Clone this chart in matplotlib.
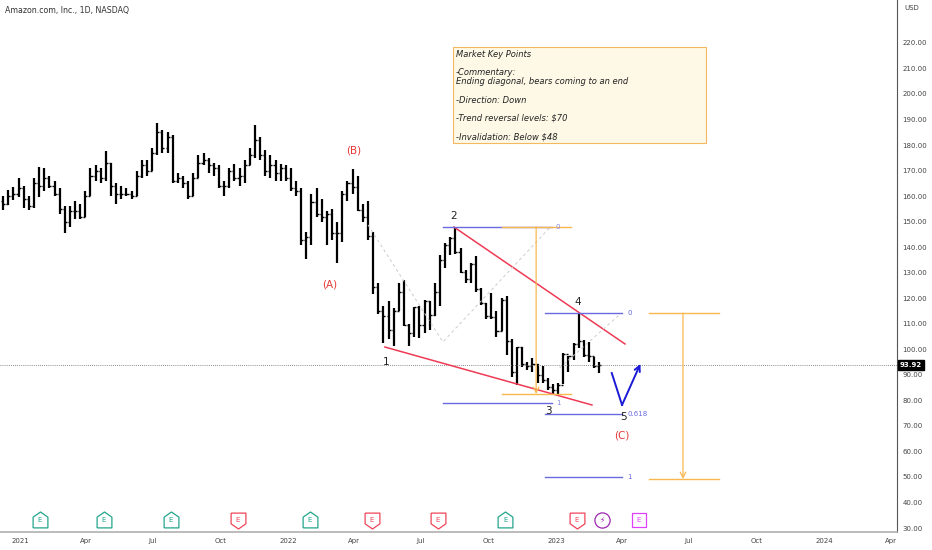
import matplotlib
matplotlib.use("Agg")
import matplotlib.pyplot as plt
import matplotlib.dates as mdates
import matplotlib.transforms as mtransforms
from matplotlib.patches import Rectangle
import numpy as np
import pandas as pd

# weekly bars (Mondays), amazon 1D, NASDAQ
week_start = pd.date_range("2020-12-07", periods=117, freq="7D")
highs = [160, 162.5, 163.5, 167, 164, 160, 167, 171.5, 171, 168, 166, 163, 156, 156, 158, 157,
         162, 171, 172, 171, 177.5, 173, 165, 164, 163, 162, 170, 174, 174, 179, 188.6, 186,
         185, 184, 169, 168, 166, 169, 176, 177, 175, 173, 172, 166, 171, 172.5, 171, 174,
         179, 188, 183, 178, 176, 174, 172.5, 172, 171, 166, 163, 146, 161, 163, 159, 154,
         155, 150, 162, 166, 170.8, 168, 157, 158, 146, 126, 117, 119, 116, 126, 127, 110,
         116.7, 117, 119.5, 119, 126, 137, 141.5, 144, 147.9, 139.5, 131, 134, 136.5, 124, 118, 122,
         115, 120, 121, 104, 101, 100.8, 95, 96.5, 94.1, 93.5, 88.8, 86.6, 86.9, 98.5, 97.5, 102.5,
         114.2, 103.8, 102.8, 97, 95]
lows = [154.7, 156.5, 158.5, 159.5, 155.5, 154.5, 155.5, 159.5, 162, 163, 160, 153, 145.6, 148, 151, 151,
        152, 160, 166, 165, 166, 160, 157, 159, 160, 159, 160, 167, 168, 170, 176, 177,
        177, 165, 165, 163, 159, 160, 167, 172, 169, 168, 163, 160, 163, 166, 164, 165,
        172, 175, 174, 168, 167, 166, 166, 166, 162, 160, 141, 135.5, 141, 152, 150, 141,
        143, 134, 142, 158, 161, 154, 150, 143, 121.6, 114, 102.4, 104, 101.3, 115, 109, 101.4,
        105, 104.5, 106.5, 107.5, 113, 117, 132, 137, 137.5, 130, 126, 126, 122.3, 117.5, 112, 112,
        105, 107, 97.7, 89, 86, 93, 91.8, 91, 87, 87, 84, 82.5, 82.0, 86.5, 91, 96,
        100.5, 97, 95, 92.5, 90.6]
closes = [157, 160, 161, 163, 159, 156, 165, 164, 167, 164, 161, 155, 150, 154, 154, 152,
          160, 168, 170, 167, 173, 164, 161, 161, 161, 160, 168, 172, 170, 177, 185, 179,
          183, 166, 167, 165, 160, 167, 173, 174, 172, 171, 164, 164, 170, 167, 168, 172,
          176, 182, 176, 170, 172, 169, 171, 167, 163, 162, 143, 144, 157.6, 153, 152, 153,
          145.6, 145.5, 161, 165, 163.6, 154.5, 151.7, 144.4, 124.3, 115, 113, 107.6, 115, 122.3, 109.6, 106.2,
          116.5, 109.6, 119, 113.6, 122.4, 134.9, 140.8, 143.6, 138.2, 130.4, 127.5, 133.3, 123.5, 118, 113, 112.6,
          107, 119.3, 103.4, 91, 100.8, 94.1, 93.4, 94.1, 89.9, 87.9, 85.3, 84.0, 86.1, 98.1, 97.3, 102.2,
          103.4, 97.6, 97.2, 93.5, 93.92]
first_open = 158
last_price = 93.92

# earnings / events along the bottom
earn_green = ["2021-01-28", "2021-04-25", "2021-07-25", "2022-01-31", "2022-10-24"]
earn_red = ["2021-10-25", "2022-04-25", "2022-07-24", "2023-01-29"]
event_bolt = "2023-03-05"
earn_next = "2023-04-24"

# drawings
wave_labels = [("1", "2022-05-15", 95.0), ("2", "2022-08-15", 152.2), ("3", "2022-12-22", 75.9),
               ("4", "2023-01-31", 118.6), ("5", "2023-04-03", 73.5)]
abc_labels = [("(A)", "2022-02-27", 125.2), ("(B)", "2022-04-01", 177.7), ("(C)", "2023-04-01", 66.1)]
upper_trend = [("2022-08-15", 147.9), ("2023-04-05", 102.1)]
lower_trend = [("2022-05-13", 100.9), ("2023-02-19", 78.2)]
fib1_x = ("2022-07-31", "2022-12-26")
fib1_levels = [("0", 147.9), ("1", 79.0)]
fib1_label_x = "2023-01-01"
fib2_x = ("2022-12-17", "2023-04-01")
fib2_levels = [("0", 114.2), ("0.618", 74.7), ("1", 50.0)]
fib2_label_x = "2023-04-08"
range1_x = ("2022-10-20", "2023-01-22", "2022-12-05")
range1_y = (147.9, 82.5)
range2_x = ("2023-05-08", "2023-08-11", "2023-06-23")
range2_y = (114.2, 49.2)
dash1 = [("2022-04-20", 148.7), ("2022-07-31", 102.9), ("2022-12-23", 147.5)]
dash2 = [("2023-01-06", 92.7), ("2023-03-31", 114.2)]
v_path = [("2023-03-18", 90.7), ("2023-04-01", 78.2), ("2023-04-26", 94.3)]

note = ("Market Key Points\n\n-Commentary:\nEnding diagonal, bears coming to an end\n\n"
        "-Direction: Down\n\n-Trend reversal levels: $70\n\n-Invalidation: Below $48")

d = lambda s: mdates.date2num(pd.Timestamp(s))

fig = plt.figure(figsize=(9.32, 5.5), dpi=100)
ax = fig.add_axes([0, 18 / 550, 897 / 932, 532 / 550])

x0 = d("2021-01-01")
ax.set_xlim(x0 - 27.24, x0 + 1194.5)
ax.set_ylim(28.46, 236.8)

# ohlc bars
xs = mdates.date2num(week_start) + 2
opens = [first_open] + closes[:-1]
ax.vlines(xs, lows, highs, color="black", lw=1.6)
ax.hlines(opens, xs - 2.8, xs, color="black", lw=1.0)
ax.hlines(closes, xs, xs + 2.8, color="black", lw=1.0)

# last price line
ax.axhline(last_price, color="#666666", lw=0.6, ls=(0, (1, 1.5)))

# trend lines
for seg in (upper_trend, lower_trend):
    ax.plot([d(p[0]) for p in seg], [p[1] for p in seg], color="#ef3a55", lw=1.1)

# dashed helper lines
for seg in (dash1, dash2):
    ax.plot([d(p[0]) for p in seg], [p[1] for p in seg], color="#cccccc", lw=0.7, ls=(0, (3, 3)))

fib_col = "#6a6ae0"
for name, lvl in fib1_levels:
    ax.plot([d(fib1_x[0]), d(fib1_x[1])], [lvl, lvl], color=fib_col, lw=1.0)
for name, lvl in fib2_levels:
    ax.plot([d(fib2_x[0]), d(fib2_x[1])], [lvl, lvl], color=fib_col, lw=1.0)

# orange price ranges
orange = "#f9b84f"
for rx, ry in ((range1_x, range1_y), (range2_x, range2_y)):
    for lvl in ry:
        ax.plot([d(rx[0]), d(rx[1])], [lvl, lvl], color=orange, lw=1.0)
    ax.annotate("", xy=(d(rx[2]), ry[1]), xytext=(d(rx[2]), ry[0]),
                arrowprops=dict(arrowstyle="->", color=orange, lw=0.9, shrinkA=0, shrinkB=0))

for name, lvl in fib1_levels:
    ax.text(d(fib1_label_x), lvl, name, color="#8888dd", fontsize=5, va="center", ha="left")
for name, lvl in fib2_levels:
    ax.text(d(fib2_label_x), lvl, name, color="#6a6ae0", fontsize=5, va="center", ha="left")

# blue V projection
vx = [d(p[0]) for p in v_path]
vy = [p[1] for p in v_path]
ax.plot(vx[:2], vy[:2], color="#1a1ad6", lw=1.4)
ax.annotate("", xy=(vx[2], vy[2]), xytext=(vx[1], vy[1]),
            arrowprops=dict(arrowstyle="->", color="#1a1ad6", lw=1.4, shrinkA=0, shrinkB=0,
                            mutation_scale=10))

for t, dt, p in wave_labels:
    ax.text(d(dt), p, t, fontsize=7.5, color="#222222", ha="center", va="center")
for t, dt, p in abc_labels:
    ax.text(d(dt), p, t, fontsize=7.5, color="#e53935", ha="center", va="center")

# note box
ax.add_patch(Rectangle((453 / 897, 1 - 143 / 532), (706 - 453) / 897, 96 / 532,
                       transform=ax.transAxes, facecolor="#fef9e6", edgecolor="#f4b860", lw=0.8))
ax.text(456 / 897, 1 - 50 / 532, note, transform=ax.transAxes, fontsize=6.0, style="italic",
        color="#222222", va="top", ha="left", linespacing=1.02)

# event badges
trans = mtransforms.blended_transform_factory(ax.transData, ax.transAxes)
up_badge = [(-1, -1), (1, -1), (1, 0.45), (0, 1.15), (-1, 0.45), (-1, -1)]
down_badge = [(-1, 1), (1, 1), (1, -0.45), (0, -1.15), (-1, -0.45), (-1, 1)]
by = 1 - 520 / 532
for dates, mk, col in ((earn_green, up_badge, "#22a68b"), (earn_red, down_badge, "#f0455a")):
    bx = [d(s) for s in dates]
    ax.scatter(bx, [by] * len(bx), marker=mk, s=150, facecolor="white", edgecolor=col,
               lw=0.9, transform=trans, zorder=5, clip_on=False)
    for b in bx:
        ax.text(b, by, "E", color=col, fontsize=5, ha="center", va="center",
                transform=trans, zorder=6)
ax.scatter([d(event_bolt)], [by], marker="o", s=120, facecolor="white", edgecolor="#9c27b0",
           lw=0.9, transform=trans, zorder=5)
ax.text(d(event_bolt), by, "\u26a1", color="#9c27b0", fontsize=5.5, ha="center", va="center",
        transform=trans, zorder=6)
ax.scatter([d(earn_next)], [by], marker="s", s=110, facecolor="white", edgecolor="#e040fb",
           lw=0.9, transform=trans, zorder=5)
ax.text(d(earn_next), by, "E", color="#e040fb", fontsize=5, ha="center", va="center",
        transform=trans, zorder=6)

# axes styling
for s in ("top", "left"):
    ax.spines[s].set_visible(False)
ax.spines["right"].set_color("#555555")
ax.spines["right"].set_linewidth(0.8)
ax.spines["bottom"].set_color("#b0b0b0")
ax.spines["bottom"].set_linewidth(1.2)

yt = np.arange(30, 230, 10)
ax.yaxis.tick_right()
ax.set_yticks(yt)
ax.set_yticklabels([f"{v:.2f}" for v in yt])
ax.tick_params(axis="y", length=0, pad=4, labelsize=5, labelcolor="#444444")

xt = pd.date_range("2021-01-01", "2024-04-01", freq="QS")
ax.set_xticks(mdates.date2num(xt))
ax.set_xticklabels([str(t.year) if t.month == 1 else t.strftime("%b") for t in xt])
ax.tick_params(axis="x", length=0, pad=4, labelsize=5, labelcolor="#444444")

# last price tag
ax.text(1.003, last_price, f"{last_price:.2f}", transform=mtransforms.blended_transform_factory(
    ax.transAxes, ax.transData), fontsize=5, color="white", weight="bold", va="center", ha="left",
    bbox=dict(boxstyle="square,pad=0.3", facecolor="black", edgecolor="black"), clip_on=False)

fig.text(5 / 932, 1 - 11 / 550, "Amazon.com, Inc., 1D, NASDAQ", fontsize=5.7, color="#333333",
         va="center", ha="left")
fig.text(904 / 932, 1 - 8 / 550, "USD", fontsize=5, color="#444444", va="center", ha="left")

fig.savefig("out.png", dpi=100)
